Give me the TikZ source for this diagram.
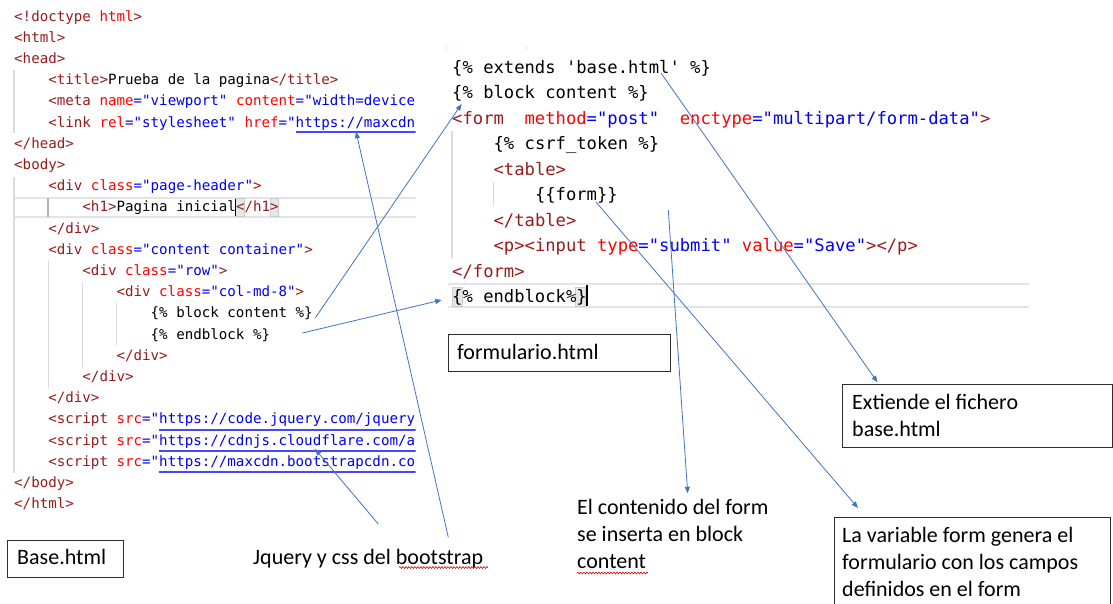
\documentclass[tikz,border=0pt]{standalone}
\usepackage{fontspec}
\setmainfont{Carlito}
\newfontfamily\codefont{DejaVu Sans Mono}
\usetikzlibrary{arrows.meta,decorations.pathmorphing}
\definecolor{tagc}{RGB}{150,28,28}
\definecolor{attc}{RGB}{255,0,0}
\definecolor{valc}{RGB}{0,0,245}
\definecolor{urlline}{RGB}{70,70,255}
\definecolor{arrc}{RGB}{68,114,196}
\definecolor{guidec}{RGB}{218,218,218}
\definecolor{curline}{RGB}{228,228,228}
\definecolor{boxc}{RGB}{45,45,45}
\definecolor{matchc}{RGB}{228,232,226}
\newcommand\Tg[1]{\textcolor{tagc}{#1}}
\newcommand\At[1]{\textcolor{attc}{#1}}
\newcommand\Vl[1]{\textcolor{valc}{#1}}

\begin{document}
\begin{tikzpicture}[x=1pt,y=-1pt,
  lcode/.style={anchor=base west,inner sep=0pt,font=\codefont\frenchspacing\fontsize{14.17}{17}\selectfont},
  rcode/.style={anchor=base west,inner sep=0pt,font=\codefont\frenchspacing\fontsize{17.19}{21}\selectfont},
  note/.style={anchor=base west,inner sep=0pt,font=\fontsize{22}{27}\selectfont},
  frame/.style={draw=boxc,line width=1.2pt,anchor=north west,inner sep=0pt},
  guide/.style={guidec,line width=1.2pt},
  arr/.style={arrc,line width=0.8pt,-{Triangle[length=6.5pt,width=5pt]}},
  spell/.style={red!85!black,line width=0.6pt,decorate,decoration={snake,amplitude=0.9pt,segment length=3pt}},
  url/.style={urlline,line width=1.2pt},
  caret/.style={black,line width=1.4pt},
  match/.style={fill=matchc,draw=gray!40,line width=0.5pt}]

\useasboundingbox (0,0) rectangle (1113,603);
\clip (0,0) rectangle (1113,603);
\fill[white] (0,0) rectangle (1113,603);

% ---------- base.html source ----------
\begin{scope}
  \clip (0,0) rectangle (415.5,603);
  % current line (h1)
  \draw[curline,line width=1.3pt] (15,198) -- (416,198) (15,217) -- (416,217);
  \fill[match] (235.7,198.5) rectangle (244.3,216.5);
  \fill[match] (269.9,198.5) rectangle (278.4,216.5);
  % indentation guides
  \draw[guide] (14,70) -- (14,133);
  \draw[guide] (14,177) -- (14,473);
  \draw[guide] (48.1,260) -- (48.1,388);
  \draw[guide] (82.2,282) -- (82.2,367);
  \draw[guide] (116.4,303) -- (116.4,345);
  \draw[gray!60,line width=2pt] (48.1,198) -- (48.1,217);

  \node[lcode] (L0) at (14,21) {\Tg{<!doctype }\At{html}\Tg{>}};
  \node[lcode] (L1) at (14,42.2) {\Tg{<html>}};
  \node[lcode] (L2) at (14,63.4) {\Tg{<head>}};
  \node[lcode] (L3) at (48.12,84.6) {\Tg{<title>}Prueba de la pagina\Tg{</title>}};
  \node[lcode] (L4) at (48.12,105.8) {\Tg{<meta }\At{name}\Vl{="viewport" }\At{content}\Vl{="width=device}};
  \node[lcode] (L5) at (48.12,127) {\Tg{<link }\At{rel}\Vl{="stylesheet" }\At{href}\Vl{="https://maxcdn}};
  \node[lcode] (L6) at (14,148.2) {\Tg{</head>}};
  \node[lcode] (L7) at (14,169.4) {\Tg{<body>}};
  \node[lcode] (L8) at (48.12,190.6) {\Tg{<div }\At{class}\Vl{="page-header"}\Tg{>}};
  \node[lcode] (L9) at (82.24,211.8) {\Tg{<h1>}Pagina inicial\Tg{</h1>}};
  \node[lcode] (L10) at (48.12,233) {\Tg{</div>}};
  \node[lcode] (L11) at (48.12,254.2) {\Tg{<div }\At{class}\Vl{="content container"}\Tg{>}};
  \node[lcode] (L12) at (82.24,275.4) {\Tg{<div }\At{class}\Vl{="row"}\Tg{>}};
  \node[lcode] (L13) at (116.36,296.6) {\Tg{<div }\At{class}\Vl{="col-md-8"}\Tg{>}};
  \node[lcode] (L14) at (150.48,317.8) {\{\% block content \%\}};
  \node[lcode] (L15) at (150.48,339) {\{\% endblock \%\}};
  \node[lcode] (L16) at (116.36,360.2) {\Tg{</div>}};
  \node[lcode] (L17) at (82.24,381.4) {\Tg{</div>}};
  \node[lcode] (L18) at (48.12,402.6) {\Tg{</div>}};
  \node[lcode] (L19) at (48.12,423.8) {\Tg{<script }\At{src}\Vl{="https://code.jquery.com/jquery}};
  \node[lcode] (L20) at (48.12,445) {\Tg{<script }\At{src}\Vl{="https://cdnjs.cloudflare.com/a}};
  \node[lcode] (L21) at (48.12,466.2) {\Tg{<script }\At{src}\Vl{="https://maxcdn.bootstrapcdn.co}};
  \node[lcode] (L22) at (14,487.4) {\Tg{</body>}};
  \node[lcode] (L23) at (14,508.6) {\Tg{</html>}};

  % caret and link underlines
  \draw[caret] (235.7,199) -- (235.7,216);
  \draw[url] (296,132) -- (416,132);
  \draw[url] (159,430) -- (416,430);
  \draw[url] (159,451) -- (416,451);
  \draw[url] (159,472) -- (416,472);
\end{scope}

% ---------- formulario.html source ----------
\fill[gray!60] (446,48) circle (0.7) (456,48) circle (0.7) (527,48) circle (0.7);
\draw[curline,line width=2pt] (448,284) -- (1029,284) (448,307) -- (1029,307);
\fill[match] (452,287) rectangle (462,306);
\fill[match] (575.5,287) rectangle (585.5,306);
\draw[guide] (452,131) -- (452,258);
\draw[guide] (493.4,182) -- (493.4,206);

\node[rcode] (R0) at (452,73) {\{\% extends \textquotesingle base.html\textquotesingle\ \%\}};
\node[rcode] (R1) at (452,98.5) {\{\% block content \%\}};
\node[rcode] (R2) at (452,124) {\Tg{<form}\ \ \At{method}\Vl{="post"}\ \ \At{enctype}\Vl{="multipart/form-data"}\Tg{>}};
\node[rcode] (R3) at (493.4,149.5) {\{\% csrf\_token \%\}};
\node[rcode] (R4) at (493.4,175) {\Tg{<table>}};
\node[rcode] (R5) at (534.8,200.5) {\{\{form\}\}};
\node[rcode] (R6) at (493.4,226) {\Tg{</table>}};
\node[rcode] (R7) at (493.4,251.5) {\Tg{<p><input }\At{type}\Vl{="submit" }\At{value}\Vl{="Save"}\Tg{></p>}};
\node[rcode] (R8) at (452,277) {\Tg{</form>}};
\node[rcode] (R9) at (452,302.5) {\{\% endblock\%\}};
\draw[caret] (587,285) -- (587,306);

% ---------- captions and boxes ----------
\node[frame,minimum width=116pt,minimum height=37pt] (basebox) at (7,540) {};
\node[note] (basetxt) at (17,564.5) {Base.html};
\node[note] (jq) at (253,564) {Jquery y css del bootstrap};
\draw[spell] (399,567.5) -- (488,567.5);

\node[frame,minimum width=222pt,minimum height=37pt] (formbox) at (448,334) {};
\node[note] (formtxt) at (457,359) {formulario.html};

\node[frame,minimum width=270pt,minimum height=63pt] (ext) at (842,384) {};
\node[note] (ext1) at (852,409) {Extiende el fichero};
\node[note] (ext2) at (852,436) {base.html};

\node[note] (cont1) at (577,514) {El contenido del form};
\node[note] (cont2) at (577,541) {se inserta en block};
\node[note] (cont3) at (577,568) {content};
\draw[spell] (577,573) -- (648,573);

\node[frame,minimum width=276pt,minimum height=100pt] (var) at (834,517) {};
\node[note] (var1) at (842,542) {La variable form genera el};
\node[note] (var2) at (842,569) {formulario con los campos};
\node[note] (var3) at (842,596) {definidos en el form};

% ---------- connectors ----------
\coordinate (tblk) at (668.3,210);
\draw[arr] ([xshift=2.4pt]L14.base east) -- ([shift={(9.6,5.5)}]R1.base west);
\draw[arr] ([shift={(32,-6)}]L15.base east) -- ([shift={(-10.3,-2.5)}]R9.base west);
\draw[arr] ([shift={(195.3,-26.7)}]jq.base west) -- ([shift={(307.9,4.7)}]L5.base west);
\draw[arr] ([shift={(125.3,-40)}]jq.base west) -- ([shift={(266.9,4)}]L20.base west);
\draw[arr] ([shift={(209,0)}]R0.base west) -- ([shift={(35.5,-1.7)}]ext.north west);
\draw[arr] ([shift={(61.2,1.5)}]R5.base west) -- ([shift={(24,-9)}]var.north west);
\draw[arr] (tblk) -- ([shift={(110.7,-20.7)}]cont1.base west);
\end{tikzpicture}
\end{document}
